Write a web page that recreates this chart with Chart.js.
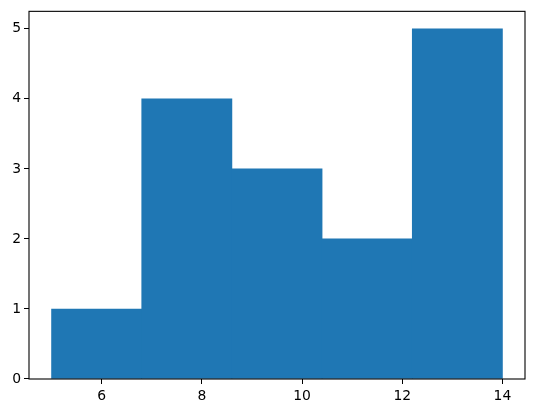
<!DOCTYPE html>
<html>
<head>
<meta charset="utf-8">
<script src="https://cdn.jsdelivr.net/npm/chart.js@4"></script>
<style>
  html, body { margin: 0; padding: 0; background: #fff; }
  #wrap { width: 534px; height: 413px; }
</style>
</head>
<body>
<div id="wrap"><canvas id="hist"></canvas></div>
<script>
// histogram bins (5 bins from 5 to 14) and counts
const binEdges = [5, 6.8, 8.6, 10.4, 12.2, 14];
const counts = [1, 4, 3, 2, 5];
const xTicks = [6, 8, 10, 12, 14];
const yTicks = [0, 1, 2, 3, 4, 5];

const points = counts.map(function(c, i) {
    return { x: (binEdges[i] + binEdges[i + 1]) / 2, y: c };
});

// draw the full axes frame like matplotlib
const framePlugin = {
    id: 'frame',
    afterDraw: function(chart) {
        const a = chart.chartArea;
        const ctx = chart.ctx;
        ctx.save();
        ctx.strokeStyle = '#000';
        ctx.lineWidth = 1.1;
        ctx.strokeRect(a.left, a.top, a.right - a.left, a.bottom - a.top);
        ctx.restore();
    }
};

const tickFont = { family: 'DejaVu Sans', size: 13.9 };

new Chart(document.getElementById('hist'), {
    type: 'bar',
    data: {
        datasets: [{
            data: points,
            backgroundColor: '#1f77b4',
            borderWidth: 0,
            barPercentage: 1,
            categoryPercentage: 1
        }]
    },
    options: {
        responsive: true,
        maintainAspectRatio: false,
        animation: false,
        layout: { padding: { top: 10, right: 9, left: 0, bottom: 0 } },
        plugins: {
            legend: { display: false },
            tooltip: { enabled: false }
        },
        scales: {
            x: {
                type: 'linear',
                min: 4.55,
                max: 14.45,
                offset: false,
                afterBuildTicks: function(scale) {
                    scale.ticks = xTicks.map(function(v) { return { value: v }; });
                },
                afterFit: function(scale) { scale.height = 34; },
                grid: { offset: false, drawOnChartArea: false, tickLength: 5, color: '#000', tickColor: '#000' },
                border: { display: false },
                ticks: { color: '#000', font: tickFont, padding: 4, maxRotation: 0 }
            },
            y: {
                min: 0,
                max: 5.25,
                afterBuildTicks: function(scale) {
                    scale.ticks = yTicks.map(function(v) { return { value: v }; });
                },
                afterFit: function(scale) { scale.width = 29; },
                grid: { offset: false, drawOnChartArea: false, tickLength: 5, color: '#000', tickColor: '#000' },
                border: { display: false },
                ticks: { color: '#000', font: tickFont, padding: 3 }
            }
        }
    },
    plugins: [framePlugin]
});
</script>
</body>
</html>
